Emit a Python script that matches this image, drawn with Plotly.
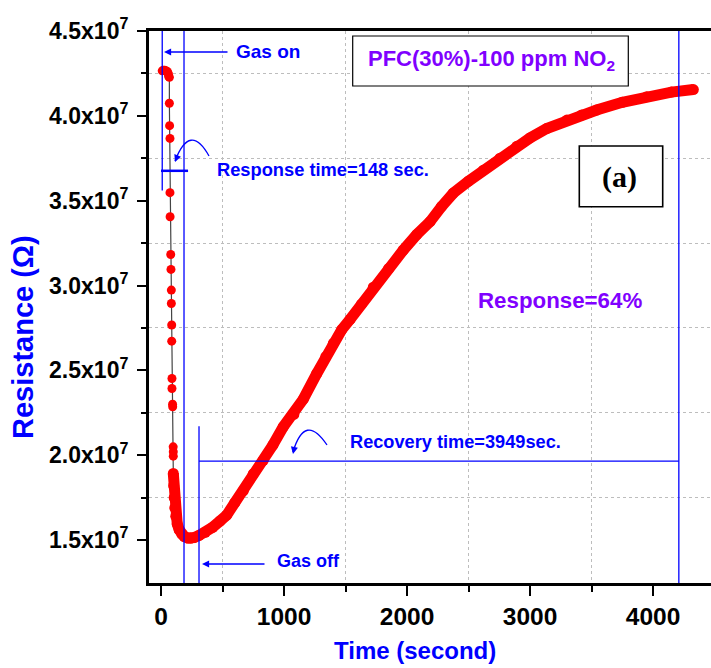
import plotly.graph_objects as go

# ---------------- data ----------------
# gas-on plateau + fast response (sparse dots joined by a thin line)
time_drop = [10, 20, 30, 40, 50, 56, 60, 63, 68, 68, 70, 73, 73, 74, 79, 81, 84, 84,
             87, 87, 89, 89, 94, 95, 99, 100, 100, 100]
res_drop = [4.265e7, 4.268e7, 4.268e7, 4.266e7, 4.262e7, 4.255e7, 4.245e7, 4.232e7,
            4.227e7, 4.074e7, 3.942e7, 3.867e7, 3.547e7, 3.405e7, 3.183e7, 3.095e7,
            2.973e7, 2.894e7, 2.767e7, 2.672e7, 2.452e7, 2.393e7, 2.300e7, 2.285e7,
            2.049e7, 2.020e7, 1.994e7, 1.892e7]

# dense part: end of response and recovery (dense overlapping dots)
time_rec = [100, 103, 107, 112, 120, 132, 148, 168, 190, 215, 240, 270, 310, 360, 420,
            480, 534, 600, 669, 750, 832, 910, 994, 1080, 1157, 1266, 1340, 1401, 1470,
            1537, 1630, 1726, 1850, 1970, 2079, 2187, 2280, 2377, 2500, 2621, 2756, 2892,
            3000, 3136, 3300, 3420, 3542, 3750, 3949, 4150, 4328]
res_rec = [1.892e7, 1.820e7, 1.750e7, 1.690e7, 1.640e7, 1.595e7, 1.560e7, 1.535e7,
           1.520e7, 1.512e7, 1.510e7, 1.515e7, 1.527e7, 1.545e7, 1.575e7, 1.612e7,
           1.646e7, 1.720e7, 1.790e7, 1.890e7, 1.970e7, 2.060e7, 2.167e7, 2.240e7,
           2.330e7, 2.480e7, 2.580e7, 2.659e7, 2.740e7, 2.800e7, 2.890e7, 2.990e7,
           3.100e7, 3.209e7, 3.300e7, 3.376e7, 3.465e7, 3.545e7, 3.615e7, 3.680e7,
           3.750e7, 3.820e7, 3.870e7, 3.925e7, 3.975e7, 4.005e7, 4.034e7, 4.080e7,
           4.113e7, 4.140e7, 4.155e7]

# axis ticks
x_ticks = [0, 1000, 2000, 3000, 4000]
x_ticktext = ["0", "1000", "2000", "3000", "4000"]
x_minor = [500, 1500, 2500, 3500]
y_ticks = [1.5e7, 2.0e7, 2.5e7, 3.0e7, 3.5e7, 4.0e7, 4.5e7]
y_ticktext = ["1.5x10<sup>7</sup>", "2.0x10<sup>7</sup>", "2.5x10<sup>7</sup>",
              "3.0x10<sup>7</sup>", "3.5x10<sup>7</sup>", "4.0x10<sup>7</sup>",
              "4.5x10<sup>7</sup>"]
y_minor = [1.75e7, 2.25e7, 2.75e7, 3.25e7, 3.75e7, 4.25e7]

# marker times / levels of the blue guide lines
t_gas_on = 10
t_resp = 187
t_gas_off = 309
t_rec_end = 4210
r_resp_level = 3.676e7
r_rec_level = 1.965e7

# ---------------- layout geometry ----------------
W, H = 711, 668
ML, MR, MT, MB = 149, 0, 31, 85
PW, PH = W - ML - MR, H - MT - MB


def pxx(x):
    return (x - ML) / PW


def pxy(y):
    return (H - MB - y) / PH


BLUE = "#0000ff"
PURPLE = "#8000ff"
FONT = "Arial, Liberation Sans, sans-serif"

fig = go.Figure()
fig.add_trace(go.Scatter(
    x=time_drop, y=res_drop, mode="lines+markers",
    line=dict(color="#444444", width=1.2),
    marker=dict(color="#ff0000", size=9, line=dict(width=0)),
    showlegend=False, hoverinfo="skip"))
fig.add_trace(go.Scatter(
    x=time_rec, y=res_rec, mode="lines+markers",
    line=dict(color="#ff0000", width=11),
    marker=dict(color="#ff0000", size=11, line=dict(width=0)),
    showlegend=False, hoverinfo="skip"))

shapes = []
lw = 1.3
shapes.append(dict(type="line", xref="x", yref="y", x0=t_gas_on, x1=t_gas_on,
                   y0=3.56e7, y1=4.5e7, line=dict(color=BLUE, width=lw)))
shapes.append(dict(type="line", xref="x", yref="paper", x0=t_resp, x1=t_resp,
                   y0=0, y1=1, line=dict(color=BLUE, width=lw)))
shapes.append(dict(type="line", xref="x", yref="y", x0=0, x1=220,
                   y0=r_resp_level, y1=r_resp_level, line=dict(color=BLUE, width=2.5)))
shapes.append(dict(type="line", xref="x", yref="y", x0=t_gas_off, x1=t_gas_off,
                   y0=1.2466e7, y1=2.171e7, line=dict(color=BLUE, width=lw)))
shapes.append(dict(type="line", xref="x", yref="y", x0=t_gas_off, x1=t_rec_end,
                   y0=r_rec_level, y1=r_rec_level, line=dict(color=BLUE, width=lw)))
shapes.append(dict(type="line", xref="x", yref="paper", x0=t_rec_end, x1=t_rec_end,
                   y0=0, y1=1, line=dict(color=BLUE, width=lw)))


def curve(p0, c, p1):
    return "M {} {} Q {} {} {} {}".format(pxx(p0[0]), pxy(p0[1]), pxx(c[0]), pxy(c[1]),
                                        pxx(p1[0]), pxy(p1[1]))


shapes.append(dict(type="path", xref="paper", yref="paper",
                   path=curve((209, 156), (190, 122), (175, 161)),
                   line=dict(color=BLUE, width=1.3)))
shapes.append(dict(type="path", xref="paper", yref="paper",
                   path=curve((327, 445), (305, 412), (293, 452)),
                   line=dict(color=BLUE, width=1.3)))
shapes.append(dict(type="rect", xref="paper", yref="paper",
                   x0=pxx(352.7), x1=pxx(628.3), y0=pxy(86), y1=pxy(36),
                   line=dict(color="black", width=1.2), fillcolor="white"))
shapes.append(dict(type="rect", xref="paper", yref="paper",
                   x0=pxx(579.3), x1=pxx(662.7), y0=pxy(206.7), y1=pxy(146),
                   line=dict(color="black", width=1.6), fillcolor="white"))

ann = []


def text(x, y, s, size, color, anchor="left", family=FONT):
    ann.append(dict(xref="paper", yref="paper", x=pxx(x), y=pxy(y), text=s,
                    showarrow=False, xanchor=anchor, yanchor="middle",
                    font=dict(family=family, size=size, color=color, weight="bold")))


def arrow(xh, yh, xt, yt):
    ann.append(dict(xref="paper", yref="paper", x=pxx(xh), y=pxy(yh), text="",
                    showarrow=True, axref="pixel", ayref="pixel",
                    ax=xt - xh, ay=yt - yh, arrowhead=2, arrowsize=1.1,
                    arrowwidth=1.3, arrowcolor=BLUE))


text(234, 52, "Gas on", 19, BLUE)
text(215, 169, "Response time=148 sec.", 18.3, BLUE)
text(275, 561, "Gas off", 18, BLUE)
text(348, 442, "Recovery time=3949sec.", 18.2, BLUE)
text(366, 60, "PFC(30%)-100 ppm NO<sub>2</sub>", 22, PURPLE)
text(476, 300, "Response=64%", 22.3, PURPLE)
text(619, 177, "(a)", 30, "black", anchor="center",
     family="Times New Roman, Liberation Serif, serif")
arrow(164, 52, 229, 52)
arrow(202, 564, 266, 564)
arrow(175, 162, 177, 157)
arrow(293, 454, 294, 449)

ann.append(dict(xref="paper", yref="paper", x=pxx(23), y=pxy(337),
                text="Resistance (\u03a9)", textangle=-90, showarrow=False,
                xanchor="center", yanchor="middle",
                font=dict(family=FONT, size=29, color=BLUE, weight="bold")))
ann.append(dict(xref="paper", yref="paper", x=pxx(415), y=pxy(650),
                text="Time (second)", showarrow=False,
                xanchor="center", yanchor="middle",
                font=dict(family=FONT, size=24, color=BLUE, weight="bold")))

grid = dict(showgrid=True, gridcolor="#bdbdbd", griddash="dot", gridwidth=1)

fig.update_layout(
    width=W, height=H,
    margin=dict(l=ML, r=MR, t=MT, b=MB, pad=0),
    paper_bgcolor="white", plot_bgcolor="white",
    showlegend=False,
    shapes=shapes, annotations=ann,
    xaxis=dict(range=[-97.6, 4471.5], showline=True, linecolor="black", linewidth=3,
               mirror=True, zeroline=False, showgrid=False,
               tickmode="array", tickvals=x_ticks, ticktext=x_ticktext,
               ticks="outside", ticklen=10, tickwidth=2, tickcolor="black",
               tickfont=dict(family=FONT, size=24.5, color="black", weight="bold"),
               minor=dict(tickmode="array", tickvals=x_minor, ticks="outside",
                          ticklen=6, tickwidth=2, tickcolor="black", **grid)),
    yaxis=dict(range=[1.2466e7, 4.5e7], showline=True, linecolor="black", linewidth=3,
               zeroline=False, showgrid=False,
               tickmode="array", tickvals=y_ticks, ticktext=y_ticktext,
               ticks="outside", ticklen=9, tickwidth=2, tickcolor="black",
               ticklabelstandoff=4,
               tickfont=dict(family=FONT, size=23, color="black", weight="bold"),
               minor=dict(tickmode="array", tickvals=y_minor, ticks="outside",
                          ticklen=5, tickwidth=2, tickcolor="black", **grid)),
)

fig.write_html("out.html", config={"displayModeBar": False})
with open("out.html", "r", encoding="utf-8") as f:
    html = f.read()
html = html.replace("<body>", '<body style="margin:0;padding:0;overflow:hidden">', 1)
with open("out.html", "w", encoding="utf-8") as f:
    f.write(html)
